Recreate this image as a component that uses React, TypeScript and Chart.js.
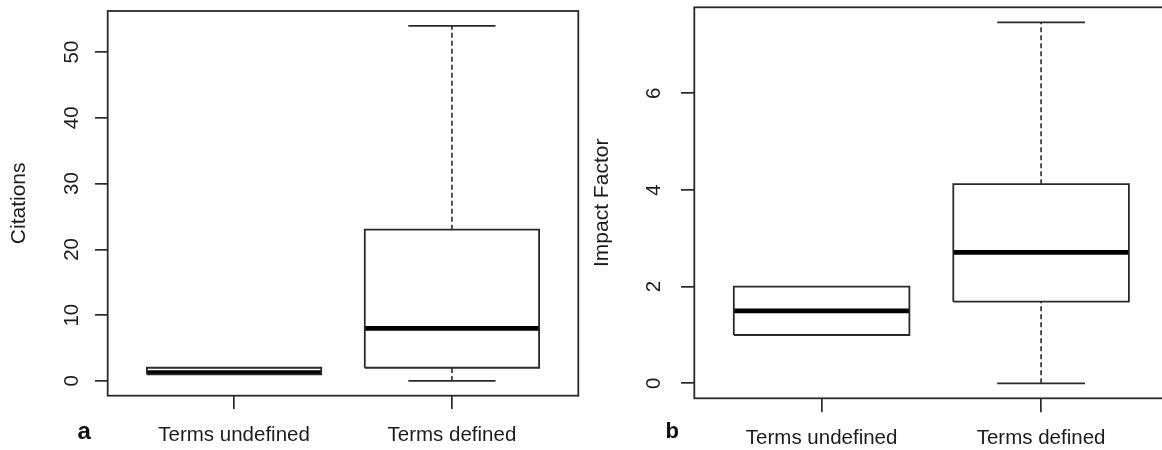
import React, { useEffect, useRef } from "react";
import { Chart, registerables } from "chart.js";

Chart.register(...registerables);

// ---------- data ----------
const categories = ["Terms undefined", "Terms defined"];

const citationsLowerWhisker = [1, 0];
const citationsQ1 = [1, 2];
const citationsMedian = [1.25, 8];
const citationsQ3 = [2, 23];
const citationsUpperWhisker = [2, 54];
const citationsTicks = [0, 10, 20, 30, 40, 50];
const citationsRange = [-2.25, 56.25];

const impactLowerWhisker = [1, 0];
const impactQ1 = [1, 1.69];
const impactMedian = [1.5, 2.71];
const impactQ3 = [2, 4.12];
const impactUpperWhisker = [2, 7.47];
const impactTicks = [0, 2, 4, 6];
const impactRange = [-0.31, 7.78];

const xRange = [0.42, 2.58];

// ---------- styles ----------
const FONT = "'Liberation Sans', Arial, sans-serif";
const INK = "#1c1c1c";
const LINE = "#2a2a2a";
const BOX_HALF = 0.4;
const CAP_HALF = 0.2;

type Spec = {
  yTitle: string;
  low: number[];
  q1: number[];
  med: number[];
  q3: number[];
  high: number[];
  ticks: number[];
  range: number[];
};

type Geom = {
  width: number;
  top: number;
  padRight: number;
  yWidth: number;
  xHeight: number;
  xTick: number;
  yTick: number;
  xPad: number;
  yPad: number;
  titlePad: number;
};

const framePlugin = {
  id: "rframe",
  afterDatasetsDraw(chart: any) {
    const { ctx, chartArea } = chart;
    ctx.save();
    ctx.strokeStyle = LINE;
    ctx.lineWidth = 1.8;
    ctx.strokeRect(
      chartArea.left,
      chartArea.top,
      chartArea.right - chartArea.left,
      chartArea.bottom - chartArea.top
    );
    ctx.restore();
  },
};

function buildDatasets(spec: Spec) {
  const base = {
    showLine: true,
    pointRadius: 0,
    pointHoverRadius: 0,
    fill: false,
    tension: 0,
    borderCapStyle: "butt",
    borderJoinStyle: "miter",
  };
  const seg = (x1: number, y1: number, x2: number, y2: number) => [
    { x: x1, y: y1 },
    { x: x2, y: y2 },
  ];
  const sets: any[] = [];
  categories.forEach((_, i) => {
    const x = i + 1;
    if (spec.high[i] !== spec.q3[i]) {
      sets.push({
        ...base,
        data: seg(x, spec.q3[i], x, spec.high[i]),
        borderColor: LINE,
        borderWidth: 1.6,
        borderDash: [5, 3],
      });
      sets.push({
        ...base,
        data: seg(x - CAP_HALF, spec.high[i], x + CAP_HALF, spec.high[i]),
        borderColor: LINE,
        borderWidth: 1.8,
      });
    }
    if (spec.low[i] !== spec.q1[i]) {
      sets.push({
        ...base,
        data: seg(x, spec.low[i], x, spec.q1[i]),
        borderColor: LINE,
        borderWidth: 1.6,
        borderDash: [5, 3],
      });
      sets.push({
        ...base,
        data: seg(x - CAP_HALF, spec.low[i], x + CAP_HALF, spec.low[i]),
        borderColor: LINE,
        borderWidth: 1.8,
      });
    }
    sets.push({
      ...base,
      data: [
        { x: x - BOX_HALF, y: spec.q1[i] },
        { x: x + BOX_HALF, y: spec.q1[i] },
        { x: x + BOX_HALF, y: spec.q3[i] },
        { x: x - BOX_HALF, y: spec.q3[i] },
        { x: x - BOX_HALF, y: spec.q1[i] },
      ],
      borderColor: LINE,
      borderWidth: 1.8,
    });
    sets.push({
      ...base,
      data: seg(x - BOX_HALF, spec.med[i], x + BOX_HALF, spec.med[i]),
      borderColor: "#000",
      borderWidth: 4.7,
    });
  });
  return sets;
}

function makeConfig(spec: Spec, g: Geom): any {
  return {
    type: "scatter",
    data: { datasets: buildDatasets(spec) },
    plugins: [framePlugin],
    options: {
      responsive: false,
      animation: false,
      events: [],
      layout: { padding: { left: 0, top: g.top, right: g.padRight, bottom: 0 } },
      plugins: {
        legend: { display: false },
        tooltip: { enabled: false },
        title: { display: false },
      },
      scales: {
        x: {
          type: "linear",
          position: "bottom",
          min: xRange[0],
          max: xRange[1],
          afterBuildTicks: (s: any) => {
            s.ticks = categories.map((_, i) => ({ value: i + 1 }));
          },
          afterFit: (s: any) => {
            s.height = g.xHeight;
            s.paddingLeft = 0;
            s.paddingRight = 0;
          },
          grid: {
            display: true,
            drawOnChartArea: false,
            drawTicks: true,
            tickLength: g.xTick,
            color: LINE,
            lineWidth: 1.7,
          },
          border: { display: false },
          ticks: {
            autoSkip: false,
            minRotation: 0,
            maxRotation: 0,
            padding: g.xPad,
            color: INK,
            font: { family: FONT, size: 20.5 },
            callback: (v: any) => categories[Math.round(Number(v)) - 1] ?? "",
          },
        },
        y: {
          type: "linear",
          position: "left",
          min: spec.range[0],
          max: spec.range[1],
          afterBuildTicks: (s: any) => {
            s.ticks = spec.ticks.map((v) => ({ value: v }));
          },
          afterFit: (s: any) => {
            s.width = g.yWidth;
            s.paddingTop = 0;
            s.paddingBottom = 0;
          },
          grid: {
            display: true,
            drawOnChartArea: false,
            drawTicks: true,
            tickLength: g.yTick,
            color: LINE,
            lineWidth: 1.7,
          },
          border: { display: false },
          ticks: {
            autoSkip: false,
            minRotation: 90,
            maxRotation: 90,
            crossAlign: "center",
            padding: g.yPad,
            color: INK,
            font: { family: FONT, size: 20.5 },
          },
          title: {
            display: true,
            text: spec.yTitle,
            color: INK,
            font: { family: FONT, size: 21 },
            padding: { top: g.titlePad, bottom: 0 },
          },
        },
      },
    },
  };
}

const citationsSpec: Spec = {
  yTitle: "Citations",
  low: citationsLowerWhisker,
  q1: citationsQ1,
  med: citationsMedian,
  q3: citationsQ3,
  high: citationsUpperWhisker,
  ticks: citationsTicks,
  range: citationsRange,
};

const impactSpec: Spec = {
  yTitle: "Impact Factor",
  low: impactLowerWhisker,
  q1: impactQ1,
  med: impactMedian,
  q3: impactQ3,
  high: impactUpperWhisker,
  ticks: impactTicks,
  range: impactRange,
};

const leftGeom: Geom = {
  width: 580,
  top: 11,
  padRight: 1.7,
  yWidth: 107.7,
  xHeight: 54.3,
  xTick: 13.3,
  yTick: 12.7,
  xPad: 13.8,
  yPad: 11.6,
  titlePad: 6.8,
};

const rightGeom: Geom = {
  width: 600,
  top: 7.3,
  padRight: 11.6,
  yWidth: 114.3,
  xHeight: 51.7,
  xTick: 14,
  yTick: 13.3,
  xPad: 13.8,
  yPad: 20.6,
  titlePad: 9.6,
};

function Panel({ spec, geom }: { spec: Spec; geom: Geom }) {
  const ref = useRef<HTMLCanvasElement | null>(null);
  useEffect(() => {
    if (!ref.current) return;
    const chart = new Chart(ref.current, makeConfig(spec, geom));
    return () => chart.destroy();
  }, [spec, geom]);
  return (
    <canvas
      ref={ref}
      width={geom.width}
      height={450}
      style={{ display: "block", width: geom.width, height: 450 }}
    />
  );
}

export default function App() {
  const letter: React.CSSProperties = {
    position: "absolute",
    fontFamily: FONT,
    fontWeight: "bold",
    color: "#111",
    lineHeight: 1,
  };
  return (
    <div
      style={{
        position: "fixed",
        left: 0,
        top: 0,
        width: 1162,
        height: 450,
        background: "#fff",
        overflow: "hidden",
      }}
    >
      <div style={{ position: "absolute", left: 0, top: 0, width: 580, height: 450, overflow: "hidden" }}>
        <Panel spec={citationsSpec} geom={leftGeom} />
      </div>
      <div style={{ position: "absolute", left: 580, top: 0, width: 582, height: 450, overflow: "hidden" }}>
        <Panel spec={impactSpec} geom={rightGeom} />
      </div>
      <div style={{ ...letter, left: 77.5, top: 419, fontSize: 24 }}>a</div>
      <div style={{ ...letter, left: 665.4, top: 419.7, fontSize: 22 }}>b</div>
    </div>
  );
}
